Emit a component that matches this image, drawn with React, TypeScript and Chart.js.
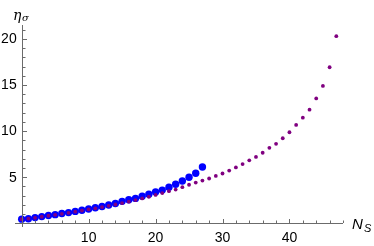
import React, { useEffect, useRef } from "react";
import { Chart, registerables } from "chart.js";

Chart.register(...registerables);

const purpleN = [0, 1, 2, 3, 4, 5, 6, 7, 8, 9, 10, 11, 12, 13, 14, 15, 16, 17, 18, 19, 20, 21, 22, 23, 24, 25, 26, 27, 28, 29, 30, 31, 32, 33, 34, 35, 36, 37, 38, 39, 40, 41, 42, 43, 44, 45, 46, 47];
const purpleEta = [0.44, 0.5, 0.6, 0.71, 0.82, 0.92, 1.03, 1.14, 1.26, 1.38, 1.5, 1.63, 1.76, 1.9, 2.04, 2.19, 2.35, 2.52, 2.7, 2.88, 3.08, 3.28, 3.48, 3.66, 3.92, 4.18, 4.42, 4.63, 4.86, 5.14, 5.4, 5.72, 6.06, 6.42, 6.83, 7.2, 7.65, 8.18, 8.62, 9.22, 9.87, 10.67, 11.45, 12.32, 13.54, 14.9, 16.92, 20.29];

const blueN = [0, 1, 2, 3, 4, 5, 6, 7, 8, 9, 10, 11, 12, 13, 14, 15, 16, 17, 18, 19, 20, 21, 22, 23, 24, 25, 26, 27];
const blueEta = [0.45, 0.5, 0.62, 0.73, 0.84, 0.94, 1.06, 1.16, 1.29, 1.42, 1.55, 1.68, 1.82, 1.98, 2.15, 2.38, 2.55, 2.7, 2.94, 3.16, 3.4, 3.6, 3.92, 4.23, 4.59, 4.99, 5.42, 6.1];

const xMajorTicks = [10, 20, 30, 40];
const xMinorTicks = [2, 4, 6, 8, 12, 14, 16, 18, 22, 24, 26, 28, 32, 34, 36, 38, 42, 44, 46, 48];
const yMajorTicks = [5, 10, 15, 20];
const yMinorTicks = [1, 2, 3, 4, 6, 7, 8, 9, 11, 12, 13, 14, 16, 17, 18, 19, 21];

const axesPlugin = {
  id: "mmaAxes",
  afterDraw(chart: any) {
    const ctx = chart.ctx as CanvasRenderingContext2D;
    const xs = chart.scales.x;
    const ys = chart.scales.y;
    const area = chart.chartArea;
    const x0 = xs.getPixelForValue(0);
    const y0 = ys.getPixelForValue(0);
    ctx.save();
    ctx.strokeStyle = "#6b6b6b";
    ctx.lineWidth = 1;
    ctx.beginPath();
    ctx.moveTo(area.left, Math.round(y0) + 0.5);
    ctx.lineTo(area.right, Math.round(y0) + 0.5);
    ctx.moveTo(Math.round(x0) + 0.5, area.bottom);
    ctx.lineTo(Math.round(x0) + 0.5, area.top);
    for (const t of xMajorTicks) {
      const p = Math.round(xs.getPixelForValue(t)) + 0.5;
      ctx.moveTo(p, Math.round(y0));
      ctx.lineTo(p, Math.round(y0) - 4);
    }
    for (const t of xMinorTicks) {
      const p = Math.round(xs.getPixelForValue(t)) + 0.5;
      ctx.moveTo(p, Math.round(y0));
      ctx.lineTo(p, Math.round(y0) - 2.5);
    }
    for (const t of yMajorTicks) {
      const p = Math.round(ys.getPixelForValue(t)) + 0.5;
      ctx.moveTo(Math.round(x0) + 1, p);
      ctx.lineTo(Math.round(x0) + 5, p);
    }
    for (const t of yMinorTicks) {
      const p = Math.round(ys.getPixelForValue(t)) + 0.5;
      ctx.moveTo(Math.round(x0) + 1, p);
      ctx.lineTo(Math.round(x0) + 3.5, p);
    }
    ctx.stroke();

    ctx.fillStyle = "#000";
    ctx.font = "14px 'Liberation Sans', Arial, sans-serif";
    ctx.textAlign = "center";
    ctx.textBaseline = "alphabetic";
    for (const t of xMajorTicks) {
      ctx.fillText(String(t), xs.getPixelForValue(t), y0 + 19);
    }
    ctx.textAlign = "right";
    ctx.textBaseline = "middle";
    for (const t of yMajorTicks) {
      ctx.fillText(String(t), x0 - 5, ys.getPixelForValue(t) + 0.5);
    }

    ctx.textAlign = "left";
    ctx.textBaseline = "alphabetic";
    ctx.font = "italic 14px 'DejaVu Serif', serif";
    ctx.fillText("η", 13, 20);
    ctx.font = "italic 10px 'DejaVu Serif', serif";
    ctx.fillText("σ", 22, 21);

    ctx.font = "italic 15px 'Liberation Sans', Arial, sans-serif";
    ctx.fillText("N", 352, 229);
    ctx.font = "italic 11px 'Liberation Sans', Arial, sans-serif";
    ctx.fillText("S", 364, 232);
    ctx.restore();
  },
};

export default function App() {
  const canvasRef = useRef<HTMLCanvasElement | null>(null);
  useEffect(() => {
    if (!canvasRef.current) return;
    const chart = new Chart(canvasRef.current, {
      type: "scatter",
      data: {
        datasets: [
          {
            label: "purple",
            data: purpleN.map((n, i) => ({ x: n, y: purpleEta[i] })),
            backgroundColor: "#800080",
            borderColor: "#800080",
            pointRadius: 1.9,
            borderWidth: 0,
            clip: false as any,
          },
          {
            label: "blue",
            data: blueN.map((n, i) => ({ x: n, y: blueEta[i] })),
            backgroundColor: "#0000ff",
            borderColor: "#0000ff",
            pointRadius: 3.7,
            borderWidth: 0,
            clip: false as any,
          },
        ],
      },
      options: {
        responsive: false,
        animation: false,
        devicePixelRatio: 1,
        layout: { padding: { left: 15, right: 31, top: 25, bottom: 19 } },
        plugins: { legend: { display: false }, tooltip: { enabled: false } },
        scales: {
          x: { type: "linear", min: -1, max: 48, display: false },
          y: { type: "linear", min: -0.4, max: 21.5, display: false },
        },
      },
      plugins: [axesPlugin],
    });
    return () => chart.destroy();
  }, []);
  return (
    <div style={{ position: "absolute", left: 0, top: 0, width: 374, height: 246, background: "#fff" }}>
      <canvas ref={canvasRef} width={374} height={246} style={{ width: 374, height: 246 }} />
    </div>
  );
}
